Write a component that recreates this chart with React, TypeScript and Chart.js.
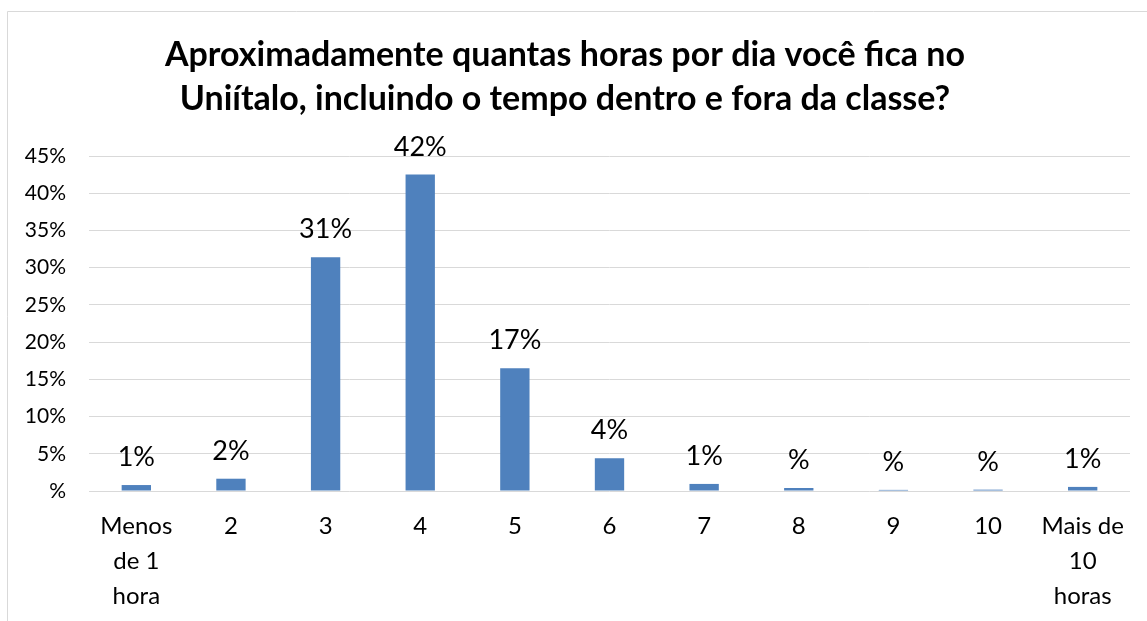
import React, { useEffect, useRef } from "react";
import { Chart, registerables } from "chart.js";

Chart.register(...registerables);

const titleLines = [
  "Aproximadamente quantas horas por dia você fica no",
  "Uniítalo, incluindo o tempo dentro e fora da classe?",
];
const categories: (string | string[])[] = [
  ["Menos", "de 1", "hora"],
  "2",
  "3",
  "4",
  "5",
  "6",
  "7",
  "8",
  "9",
  "10",
  ["Mais de", "10", "horas"],
];
const values = [0.8, 1.65, 31.4, 42.5, 16.5, 4.4, 0.95, 0.4, 0.15, 0.18, 0.55];
const dataLabels = ["1%", "2%", "31%", "42%", "17%", "4%", "1%", "%", "%", "%", "1%"];
const yMin = 0;
const yMax = 45;
const yStep = 5;

const FONT = "Lato, 'Open Sans', sans-serif";
const CANVAS_W = 1170;
const CANVAS_H = 621;

const framePlugin = {
  id: "frame",
  beforeDraw(chart: any) {
    const ctx = chart.ctx;
    ctx.save();
    ctx.fillStyle = "#ffffff";
    ctx.fillRect(0, 0, chart.width, chart.height);
    ctx.strokeStyle = "#d9d9d9";
    ctx.lineWidth = 1;
    ctx.beginPath();
    ctx.moveTo(7.5, chart.height);
    ctx.lineTo(7.5, 11.5);
    ctx.lineTo(chart.width - 7.5, 11.5);
    ctx.lineTo(chart.width - 7.5, chart.height);
    ctx.stroke();
    ctx.restore();
  },
};

const labelPlugin = {
  id: "barLabels",
  afterDatasetsDraw(chart: any) {
    const ctx = chart.ctx;
    const meta = chart.getDatasetMeta(0);
    ctx.save();
    ctx.fillStyle = "#000000";
    ctx.font = `27px ${FONT}`;
    ctx.textAlign = "center";
    ctx.textBaseline = "alphabetic";
    meta.data.forEach((bar: any, i: number) => {
      ctx.fillText(dataLabels[i], bar.x, bar.y - 19);
    });
    ctx.restore();
  },
};

export default function App() {
  const ref = useRef<HTMLCanvasElement | null>(null);

  useEffect(() => {
    if (!ref.current) return;
    const chart = new Chart(ref.current, {
      type: "bar",
      data: {
        labels: categories,
        datasets: [
          {
            data: values,
            backgroundColor: "#4f81bd",
            borderWidth: 0,
            barPercentage: 0.31,
            categoryPercentage: 1,
          },
        ],
      },
      options: {
        responsive: false,
        animation: false,
        devicePixelRatio: 1,
        layout: { padding: { left: 0, right: 40, top: 0, bottom: 0 } },
        plugins: {
          legend: { display: false },
          tooltip: { enabled: false },
          title: {
            display: true,
            text: titleLines,
            color: "#000000",
            font: { family: FONT, size: 34, weight: "bold", lineHeight: 44 / 34 },
            padding: { top: 33, bottom: 35 },
          },
        },
        scales: {
          x: {
            grid: { display: false, drawTicks: false },
            border: { display: false },
            ticks: {
              color: "#000000",
              font: { family: FONT, size: 24, lineHeight: 35 / 24 },
              padding: 18,
              maxRotation: 0,
              autoSkip: false,
            },
            afterFit(s: any) {
              s.height = 130;
            },
          },
          y: {
            min: yMin,
            max: yMax,
            grid: { color: "#d9d9d9", lineWidth: 1, drawTicks: false },
            border: { display: false },
            ticks: {
              stepSize: yStep,
              color: "#000000",
              font: { family: FONT, size: 21 },
              padding: 23,
              callback: (v: any) => (Number(v) === 0 ? "%" : `${v}%`),
            },
            afterFit(s: any) {
              s.width = 89;
            },
          },
        },
      },
      plugins: [framePlugin, labelPlugin],
    });
    return () => chart.destroy();
  }, []);

  return (
    <div
      style={{
        position: "fixed",
        left: 0,
        top: 0,
        width: 1147,
        height: 621,
        overflow: "hidden",
        background: "#fff",
      }}
    >
      <canvas
        ref={ref}
        width={CANVAS_W}
        height={CANVAS_H}
        style={{ width: CANVAS_W, height: CANVAS_H, display: "block" }}
      />
    </div>
  );
}
